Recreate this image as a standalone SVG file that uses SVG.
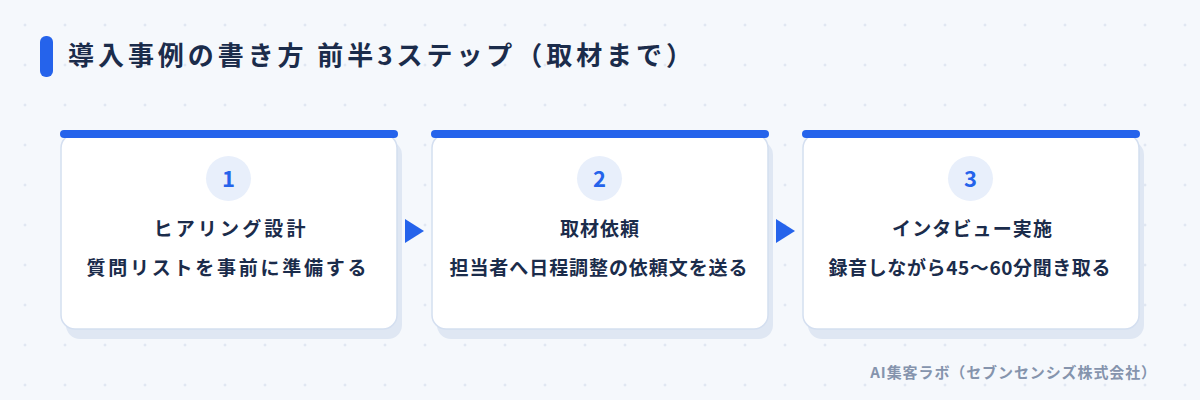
<svg xmlns="http://www.w3.org/2000/svg" width="1200" height="400" viewBox="0 0 1200 400">
<defs>
<pattern id="grid" x="5" y="5" width="40" height="40" patternUnits="userSpaceOnUse">
<path d="M18.5 20h3M20 18.5v3" stroke="#d5deec" stroke-width="0.8"/>
</pattern>
<style>
text{font-family:"Noto Sans CJK JP","Noto Sans",sans-serif;}
.title{font-size:26px;font-weight:700;fill:#1b2c4b;}
.card{fill:#ffffff;stroke:#d4dff0;stroke-width:1.5;}
.shadow{fill:#dfe7f3;}
.bar{fill:#2563eb;}
.badge{fill:#e8effb;}
.num{font-size:22px;font-weight:700;fill:#2563eb;text-anchor:middle;}
.h{font-size:19px;font-weight:700;fill:#1b2c4b;text-anchor:middle;}
.d{font-size:19px;font-weight:700;fill:#1b2c4b;text-anchor:middle;}
.arrow{fill:#2563eb;}
.foot{font-size:15px;font-weight:700;fill:#8594ad;text-anchor:end;letter-spacing:0.9px;}
</style>
</defs>
<rect width="1200" height="400" fill="#f5f8fc"/>
<rect width="1200" height="400" fill="url(#grid)"/>
<g id="title">
<rect x="40" y="36" width="13" height="41" rx="6" fill="#2563eb"/>
<text class="title" x="68" y="65" textLength="624" lengthAdjust="spacing">導入事例の書き方 前半3ステップ（取材まで）</text>
</g>
<g id="step1">
<rect class="shadow" x="66" y="141" width="336" height="198" rx="14"/>
<rect class="card" x="61" y="134" width="336" height="195" rx="14"/>
<rect class="bar" x="60" y="130" width="338" height="8" rx="4"/>
<circle class="badge" cx="228.5" cy="178.5" r="22.5"/>
<text class="num" x="228.5" y="186.5">1</text>
<text class="h" x="229.5" y="236" textLength="152" lengthAdjust="spacing">ヒアリング設計</text>
<text class="d" x="226.5" y="275" textLength="280" lengthAdjust="spacing">質問リストを事前に準備する</text>
</g>
<g id="step2">
<rect class="shadow" x="437" y="141" width="336" height="198" rx="14"/>
<rect class="card" x="432" y="134" width="336" height="195" rx="14"/>
<rect class="bar" x="431" y="130" width="338" height="8" rx="4"/>
<circle class="badge" cx="599.5" cy="178.5" r="22.5"/>
<text class="num" x="599.5" y="186.5">2</text>
<text class="h" x="599.5" y="236" textLength="79" lengthAdjust="spacing">取材依頼</text>
<text class="d" x="598.5" y="275" textLength="298" lengthAdjust="spacing">担当者へ日程調整の依頼文を送る</text>
</g>
<g id="step3">
<rect class="shadow" x="808" y="141" width="336" height="198" rx="14"/>
<rect class="card" x="803" y="134" width="336" height="195" rx="14"/>
<rect class="bar" x="802" y="130" width="338" height="8" rx="4"/>
<circle class="badge" cx="970.5" cy="178.5" r="22.5"/>
<text class="num" x="970.5" y="186.5">3</text>
<text class="h" x="972" y="236" textLength="160" lengthAdjust="spacing">インタビュー実施</text>
<text class="d" x="969.5" y="275" textLength="282" lengthAdjust="spacing">録音しながら45〜60分聞き取る</text>
</g>
<g id="connectors">
<polygon class="arrow" points="405,219 424,231 405,243"/>
<polygon class="arrow" points="776,219 795,231 776,243"/>
</g>
<g id="footer">
<text class="foot" x="1157" y="378">AI集客ラボ（セブンセンシズ株式会社）</text>
</g>
</svg>
